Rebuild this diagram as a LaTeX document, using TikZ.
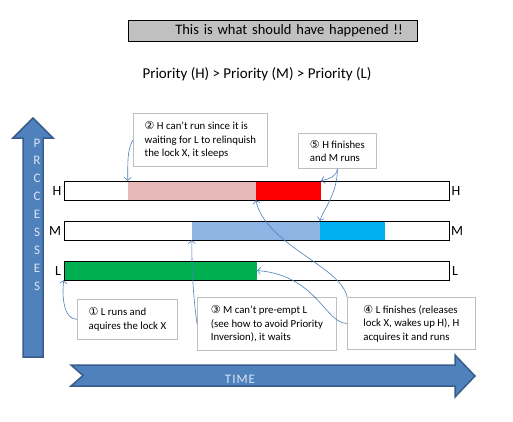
\documentclass[tikz,border=0pt]{standalone}
\usepackage{fontspec}
\setmainfont{Carlito}
\newfontfamily\circfont{DejaVu Sans}
\usepackage{xcolor}
\usepackage{tikz}
\usetikzlibrary {arrows.meta}
\definecolor{arrowblue}{RGB}{79,129,189}
\definecolor{arrowedge}{RGB}{56,93,138}
\definecolor{linkblue}{RGB}{74,126,187}
\definecolor{waitpink}{RGB}{230,185,184}
\definecolor{runred}{RGB}{255,0,0}
\definecolor{waitblue}{RGB}{142,180,227}
\definecolor{runcyan}{RGB}{0,176,240}
\definecolor{rungreen}{RGB}{0,176,80}
\definecolor{titlegray}{RGB}{192,192,192}
\definecolor{notegray}{RGB}{191,191,191}
\definecolor{arrowtext}{RGB}{220,230,242}
\newcommand{\circnum}[1]{{\circfont\fontsize{11}{12}\selectfont #1}}

\begin{document}
\begin{tikzpicture}[x=1pt, y=-1pt,
  bar/.style={draw, line width=1pt, minimum width=385pt, minimum height=19pt, inner sep=0pt},
  seg/.style={minimum height=19pt, inner sep=0pt},
  note/.style={draw=notegray, line width=0.8pt, align=left, anchor=north west, font=\fontsize{10.8}{13.5}\selectfont},
  link/.style={draw=linkblue, line width=0.6pt, -{Straight Barb[length=3pt,width=7pt]}},
  plabel/.style={font=\fontsize{14}{16}\selectfont}]

\useasboundingbox (0,0) rectangle (513,421);

\node (title) at (272.5,30.5) [draw, fill=titlegray, minimum height=21pt, inner xsep=14pt, text width=261pt, align=right, font=\fontsize{14.5}{16}\selectfont]{This is what should have happened !!};
\node (prio) at (257,74) [font=\fontsize{15}{17}\selectfont]{Priority (H) > Priority (M) > Priority (L)};

\draw[fill=arrowblue, draw=arrowedge, line width=1.5pt] (23,357) -- (23,138) -- (13,138) -- (33,118) -- (53,138) -- (43,138) -- (43,357) -- cycle;
\foreach \ch [count=\i] in {P,R,C,C,E,S,S,E,S}
  \node (proc\i) at (37,125+17.9*\i) [text=arrowtext, font=\fontsize{13}{15}\selectfont]{\ch};

\draw[fill=arrowblue, draw=arrowedge, line width=1.5pt] (71,365) -- (455,365) -- (455,355) -- (475,376) -- (455,397) -- (455,386) -- (71,386) -- (83,375.5) -- cycle;
\node (time) at (240,379) [text=arrowtext, font=\fontsize{13}{15}\selectfont]{T\kern1pt I\kern1pt M\kern1pt E};

\node (pinkH) at (192,190.5) [seg, fill=waitpink, minimum width=128pt]{};
\node (redH) at (288.5,190.5) [seg, fill=runred, minimum width=65pt]{};
\node (blueM) at (256,230.5) [seg, fill=waitblue, minimum width=128pt]{};
\node (cyanM) at (352.5,230.5) [seg, fill=runcyan, minimum width=65pt]{};
\node (greenL) at (160.5,270.5) [seg, fill=rungreen, minimum width=193pt]{};
\node (barH) at (256.5,190.5) [bar]{};
\node (barM) at (256.5,230.5) [bar]{};
\node (barL) at (256.5,270.5) [bar]{};

\node (hleft) at (57,191) [plabel]{H};
\node (hright) at (456,191) [plabel]{H};
\node (mleft) at (55,231) [plabel]{M};
\node (mright) at (457,231) [plabel]{M};
\node (lleft) at (58,271) [plabel]{L};
\node (lright) at (455,271) [plabel]{L};

\node (note1) at (77,299) [note, minimum width=100pt, minimum height=40pt]{\circnum{①} L runs and\\aquires the lock X};
\node (note2) at (133,113) [note, minimum width=134pt, minimum height=53pt]{\circnum{②} H can't run since it is\\waiting for L to relinquish\\the lock X, it sleeps};
\node (note3) at (197,297) [note, minimum width=139pt, minimum height=53pt]{\circnum{③} M can't pre-empt L\\(see how to avoid Priority\\Inversion), it waits};
\node (note4) at (347,297) [note, minimum width=128pt, minimum height=52pt]{\circnum{④} L finishes (releases\\lock X, wakes up H), H\\acquires it and runs};
\node (note5) at (298,133) [note, minimum width=78pt, minimum height=35pt]{\circnum{⑤} H finishes\\and M runs};

\draw[link] (note1.west) .. controls +(-14,0) and +(-2,14) .. (greenL.south west);
\draw[link] (note2.west) .. controls +(-6,10) and +(0,-18) .. (pinkH.north west);
\draw[link] (note3.west) .. controls +(-4,-30) and +(0,30) .. (blueM.south west);
\draw[link] (note4.west) .. controls +(-22,0) and +(60,5) .. (greenL.east);
\draw[link] (note4.north west) .. controls +(-5,-30) and +(10,45) .. (redH.south west);
\draw[link] (note5.south) .. controls +(-1,8) and +(8,-2) .. (redH.north east);
\draw[link] (note5.south) .. controls +(0,25) and +(4,-12) .. (cyanM.north west);

\end{tikzpicture}
\end{document}
